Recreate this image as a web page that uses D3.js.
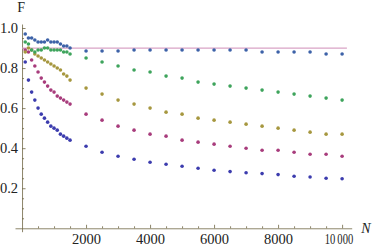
<!DOCTYPE html>
<html><head><meta charset="utf-8">
<script src="https://cdn.jsdelivr.net/npm/d3@7"></script>
<style>
html,body{margin:0;padding:0;background:#fff;}
svg{display:block;}
</style></head>
<body>
<script>
const nDense = [100,200,300,400,500,600,700,800,900,1000,1100,1200,1300,1400,1500];
const nSparse = [2000,2500,3000,3500,4000,4500,5000,5500,6000,6500,7000,7500,8000,8500,9000,9500,10000];

const s1Dense = [0.83,0.74,0.68,0.64,0.60,0.57,0.55,0.53,0.51,0.50,0.49,0.47,0.46,0.45,0.44];
const s1Sparse = [0.41,0.38,0.36,0.345,0.33,0.32,0.31,0.30,0.29,0.283,0.277,0.273,0.268,0.26,0.256,0.25,0.247];
const s2Dense = [0.89,0.88,0.84,0.81,0.78,0.75,0.73,0.71,0.69,0.68,0.66,0.65,0.64,0.63,0.62];
const s2Sparse = [0.57,0.54,0.51,0.49,0.47,0.46,0.44,0.43,0.42,0.41,0.40,0.39,0.39,0.38,0.37,0.37,0.36];
const s3Dense = [0.88,0.90,0.89,0.87,0.86,0.85,0.84,0.83,0.82,0.81,0.80,0.79,0.77,0.76,0.74];
const s3Sparse = [0.70,0.67,0.64,0.62,0.60,0.58,0.57,0.55,0.54,0.53,0.52,0.51,0.50,0.49,0.48,0.47,0.47];
const s4Dense = [0.93,0.92,0.89,0.88,0.89,0.89,0.90,0.90,0.89,0.89,0.89,0.89,0.88,0.88,0.87];
const s4Sparse = [0.85,0.83,0.81,0.79,0.78,0.76,0.75,0.73,0.72,0.71,0.70,0.69,0.68,0.67,0.66,0.65,0.64];
const s5Dense = [0.97,0.95,0.95,0.94,0.93,0.93,0.93,0.94,0.93,0.93,0.93,0.92,0.91,0.91,0.90];
const s5Sparse = [0.885,0.885,0.885,0.89,0.89,0.89,0.89,0.89,0.89,0.89,0.89,0.88,0.88,0.88,0.88,0.87,0.87];

const refLevel = 0.9;
const refRange = [0, 10150];

const xMajor = [2000,4000,6000,8000,10000];
const xMajorLabels = ["2000","4000","6000","8000","10\u2009000"];
const yMajor = [0.2,0.4,0.6,0.8,1.0];
const yMajorLabels = ["0.2","0.4","0.6","0.8","1.0"];

const colors = ["#3c3cae","#a83c7c","#a6973f","#3ea45c","#3d62a8"];
const seriesList = [
  [s1Dense, s1Sparse], [s2Dense, s2Sparse], [s3Dense, s3Sparse], [s4Dense, s4Sparse], [s5Dense, s5Sparse]
];

const W = 374, H = 248;
const FONT = "'Liberation Serif', 'Times New Roman', serif";
const svg = d3.select("body").append("svg").attr("width", W).attr("height", H);

const x = d3.scaleLinear().domain([-220, 10300]).range([15, 351.7]);
const y = d3.scaleLinear().domain([-0.017, 1.02]).range([231.7, 24]);

const axisColor = "#6f6644";

const xMinor = d3.range(500, 10001, 500).filter(v => !xMajor.includes(v));
const yMinor = d3.range(0.05, 1.001, 0.05).map(v => +v.toFixed(2)).filter(v => !yMajor.some(m => Math.abs(m - v) < 1e-6));

const gxMinor = svg.append("g").attr("transform", `translate(0,${y(0)})`)
  .call(d3.axisBottom(x).tickValues(xMinor).tickSize(-2).tickSizeOuter(0).tickFormat(""));
gxMinor.select(".domain").remove();
const gx = svg.append("g").attr("transform", `translate(0,${y(0)})`)
  .call(d3.axisBottom(x).tickValues(xMajor).tickSize(-3.5).tickSizeOuter(0).tickPadding(5.5)
    .tickFormat((d,i) => xMajorLabels[i]));

const gyMinor = svg.append("g").attr("transform", `translate(${x(0)},0)`)
  .call(d3.axisLeft(y).tickValues(yMinor).tickSize(-2).tickSizeOuter(0).tickFormat(""));
gyMinor.select(".domain").remove();
const gy = svg.append("g").attr("transform", `translate(${x(0)},0)`)
  .call(d3.axisLeft(y).tickValues(yMajor).tickSize(-3.5).tickSizeOuter(0).tickPadding(4)
    .tickFormat((d,i) => yMajorLabels[i]));

[gx, gy].forEach(g => g.attr("font-family", FONT).attr("font-size", 14.5));
svg.selectAll("text").attr("fill", "#222");
// the "10 000" label is set compressed in the reference
gx.selectAll(".tick text").filter(d => d === 10000)
  .attr("text-anchor", "end").attr("x", 352.7 - x(10000))
  .attr("textLength", 28.5).attr("lengthAdjust", "spacingAndGlyphs");

svg.selectAll("path.domain, .tick line").attr("stroke", axisColor).attr("stroke-width", 0.8);

svg.append("text").attr("x", x(0) - 1).attr("y", 11.5).attr("text-anchor","middle")
  .attr("font-family", FONT).attr("font-size", 14).attr("fill","#222").text("F");
svg.append("text").attr("x", 366).attr("y", 232.5).attr("text-anchor","middle")
  .attr("font-family", FONT).attr("font-style","italic").attr("font-size", 14).attr("fill","#222").text("N");

svg.append("line").attr("x1", x(refRange[0])).attr("x2", x(refRange[1]))
  .attr("y1", y(refLevel)).attr("y2", y(refLevel))
  .attr("stroke", "#d9a3c6").attr("stroke-width", 1.3);

seriesList.forEach((s, i) => {
  const pts = nDense.map((n, j) => [n, s[0][j]]).concat(nSparse.map((n, j) => [n, s[1][j]]));
  svg.append("g").selectAll("circle").data(pts).join("circle")
    .attr("cx", d => x(d[0])).attr("cy", d => y(d[1])).attr("r", 1.8)
    .attr("fill", colors[i]);
});
</script>
</body></html>
